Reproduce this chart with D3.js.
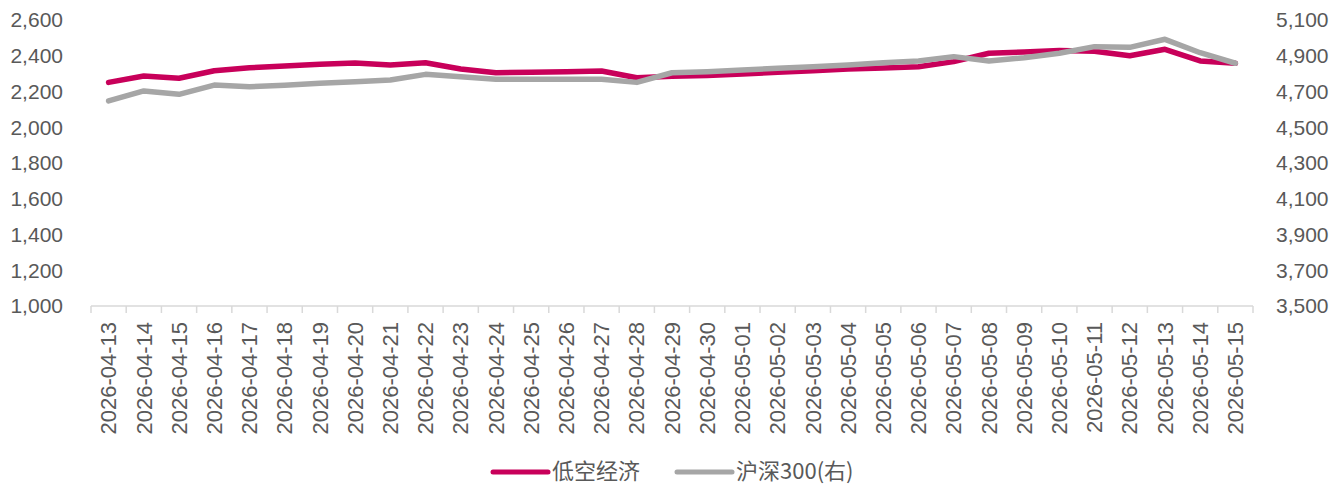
<!DOCTYPE html>
<html>
<head>
<meta charset="utf-8">
<script src="https://cdn.jsdelivr.net/npm/d3@7"></script>
<style>
  body { margin: 0; background: #fff; }
  svg text { fill: #595959; }
</style>
</head>
<body>
<div id="chart"></div>
<script>
var dates = ["2026-04-13","2026-04-14","2026-04-15","2026-04-16","2026-04-17","2026-04-18","2026-04-19",
  "2026-04-20","2026-04-21","2026-04-22","2026-04-23","2026-04-24","2026-04-25","2026-04-26","2026-04-27",
  "2026-04-28","2026-04-29","2026-04-30","2026-05-01","2026-05-02","2026-05-03","2026-05-04","2026-05-05",
  "2026-05-06","2026-05-07","2026-05-08","2026-05-09","2026-05-10","2026-05-11","2026-05-12","2026-05-13",
  "2026-05-14","2026-05-15"];

var lowAlt = [2251, 2287, 2274, 2316, 2333, 2343, 2352, 2359, 2348, 2361, 2326, 2305, 2307, 2311, 2315,
  2277, 2285, 2290, 2298, 2307, 2316, 2326, 2331, 2339, 2367, 2414, 2421, 2430, 2425, 2400, 2436, 2371, 2358];

var hs300 = [4647, 4703, 4684, 4736, 4727, 4735, 4746, 4755, 4764, 4796, 4783, 4768, 4768, 4768, 4768,
  4751, 4805, 4811, 4820, 4830, 4839, 4848, 4861, 4871, 4895, 4871, 4889, 4914, 4951, 4947, 4992, 4917, 4858];

var leftTicks = [1000, 1200, 1400, 1600, 1800, 2000, 2200, 2400, 2600];
var rightTicks = [3500, 3700, 3900, 4100, 4300, 4500, 4700, 4900, 5100];

var seriesNames = ["低空经济", "沪深300(右)"];
var colors = ["#C8005A", "#A6A6A6"];

var width = 1331, height = 484;
var plotLeft = 91, plotRight = 1253, plotTop = 20, plotBottom = 306;

var svg = d3.select("#chart")
  .append("svg")
    .attr("width", width)
    .attr("height", height);

var x = d3.scaleBand()
    .domain(dates)
    .range([plotLeft, plotRight])
    .padding(0);

var yL = d3.scaleLinear().domain([1000, 2600]).range([plotBottom, plotTop]);
var yR = d3.scaleLinear().domain([3500, 5100]).range([plotBottom, plotTop]);

var fmt = d3.format(",");

// left axis labels
svg.append("g").selectAll("text")
    .data(leftTicks)
  .enter().append("text")
    .attr("x", 63)
    .attr("y", function(d) { return yL(d); })
    .attr("dy", "0.35em")
    .attr("text-anchor", "end")
    .style("font-family", "Liberation Sans, Arial, sans-serif")
    .style("font-size", "21px")
    .text(function(d) { return fmt(d); });

// right axis labels
svg.append("g").selectAll("text")
    .data(rightTicks)
  .enter().append("text")
    .attr("x", 1276)
    .attr("y", function(d) { return yR(d); })
    .attr("dy", "0.35em")
    .attr("text-anchor", "start")
    .style("font-family", "Liberation Sans, Arial, sans-serif")
    .style("font-size", "21px")
    .text(function(d) { return fmt(d); });

// x axis
var xAxis = svg.append("g")
    .attr("transform", "translate(0," + plotBottom + ")");

xAxis.append("line")
    .attr("x1", plotLeft).attr("x2", plotRight)
    .attr("y1", 0).attr("y2", 0)
    .style("stroke", "#D9D9D9")
    .style("stroke-width", "1.5px");

var bounds = dates.map(function(d) { return x(d); }).concat([plotRight]);
xAxis.selectAll(".tick")
    .data(bounds)
  .enter().append("line")
    .attr("class", "tick")
    .attr("x1", function(d) { return d; })
    .attr("x2", function(d) { return d; })
    .attr("y1", 0).attr("y2", 7)
    .style("stroke", "#D9D9D9")
    .style("stroke-width", "1.5px");

xAxis.selectAll(".lbl")
    .data(dates)
  .enter().append("text")
    .attr("class", "lbl")
    .attr("transform", function(d) {
      return "translate(" + (x(d) + x.bandwidth() / 2) + ",16) rotate(-90)";
    })
    .attr("dy", "0.35em")
    .attr("text-anchor", "end")
    .style("font-family", "Liberation Sans, Arial, sans-serif")
    .style("font-size", "22px")
    .text(function(d) { return d; });

// lines
var cx = function(d, i) { return x(dates[i]) + x.bandwidth() / 2; };

var lineL = d3.line().x(cx).y(function(d) { return yL(d); });
var lineR = d3.line().x(cx).y(function(d) { return yR(d); });

svg.append("path")
    .datum(lowAlt)
    .attr("d", lineL)
    .style("fill", "none")
    .style("stroke", colors[0])
    .style("stroke-width", "5.5px")
    .style("stroke-linejoin", "round")
    .style("stroke-linecap", "round");

svg.append("path")
    .datum(hs300)
    .attr("d", lineR)
    .style("fill", "none")
    .style("stroke", colors[1])
    .style("stroke-width", "5.5px")
    .style("stroke-linejoin", "round")
    .style("stroke-linecap", "round");

// legend
var legendX = [493, 677];
var legend = svg.append("g").selectAll("g")
    .data(seriesNames)
  .enter().append("g")
    .attr("transform", function(d, i) { return "translate(" + legendX[i] + ",472)"; });

legend.append("line")
    .attr("x1", 0).attr("x2", 55)
    .attr("y1", 0).attr("y2", 0)
    .style("stroke", function(d, i) { return colors[i]; })
    .style("stroke-width", "5px")
    .style("stroke-linecap", "round");

legend.append("text")
    .attr("x", 59)
    .attr("y", -1)
    .attr("dy", "0.35em")
    .style("font-family", "Noto Sans CJK SC, sans-serif")
    .style("font-size", "22px")
    .text(function(d) { return d; });
</script>
</body>
</html>
